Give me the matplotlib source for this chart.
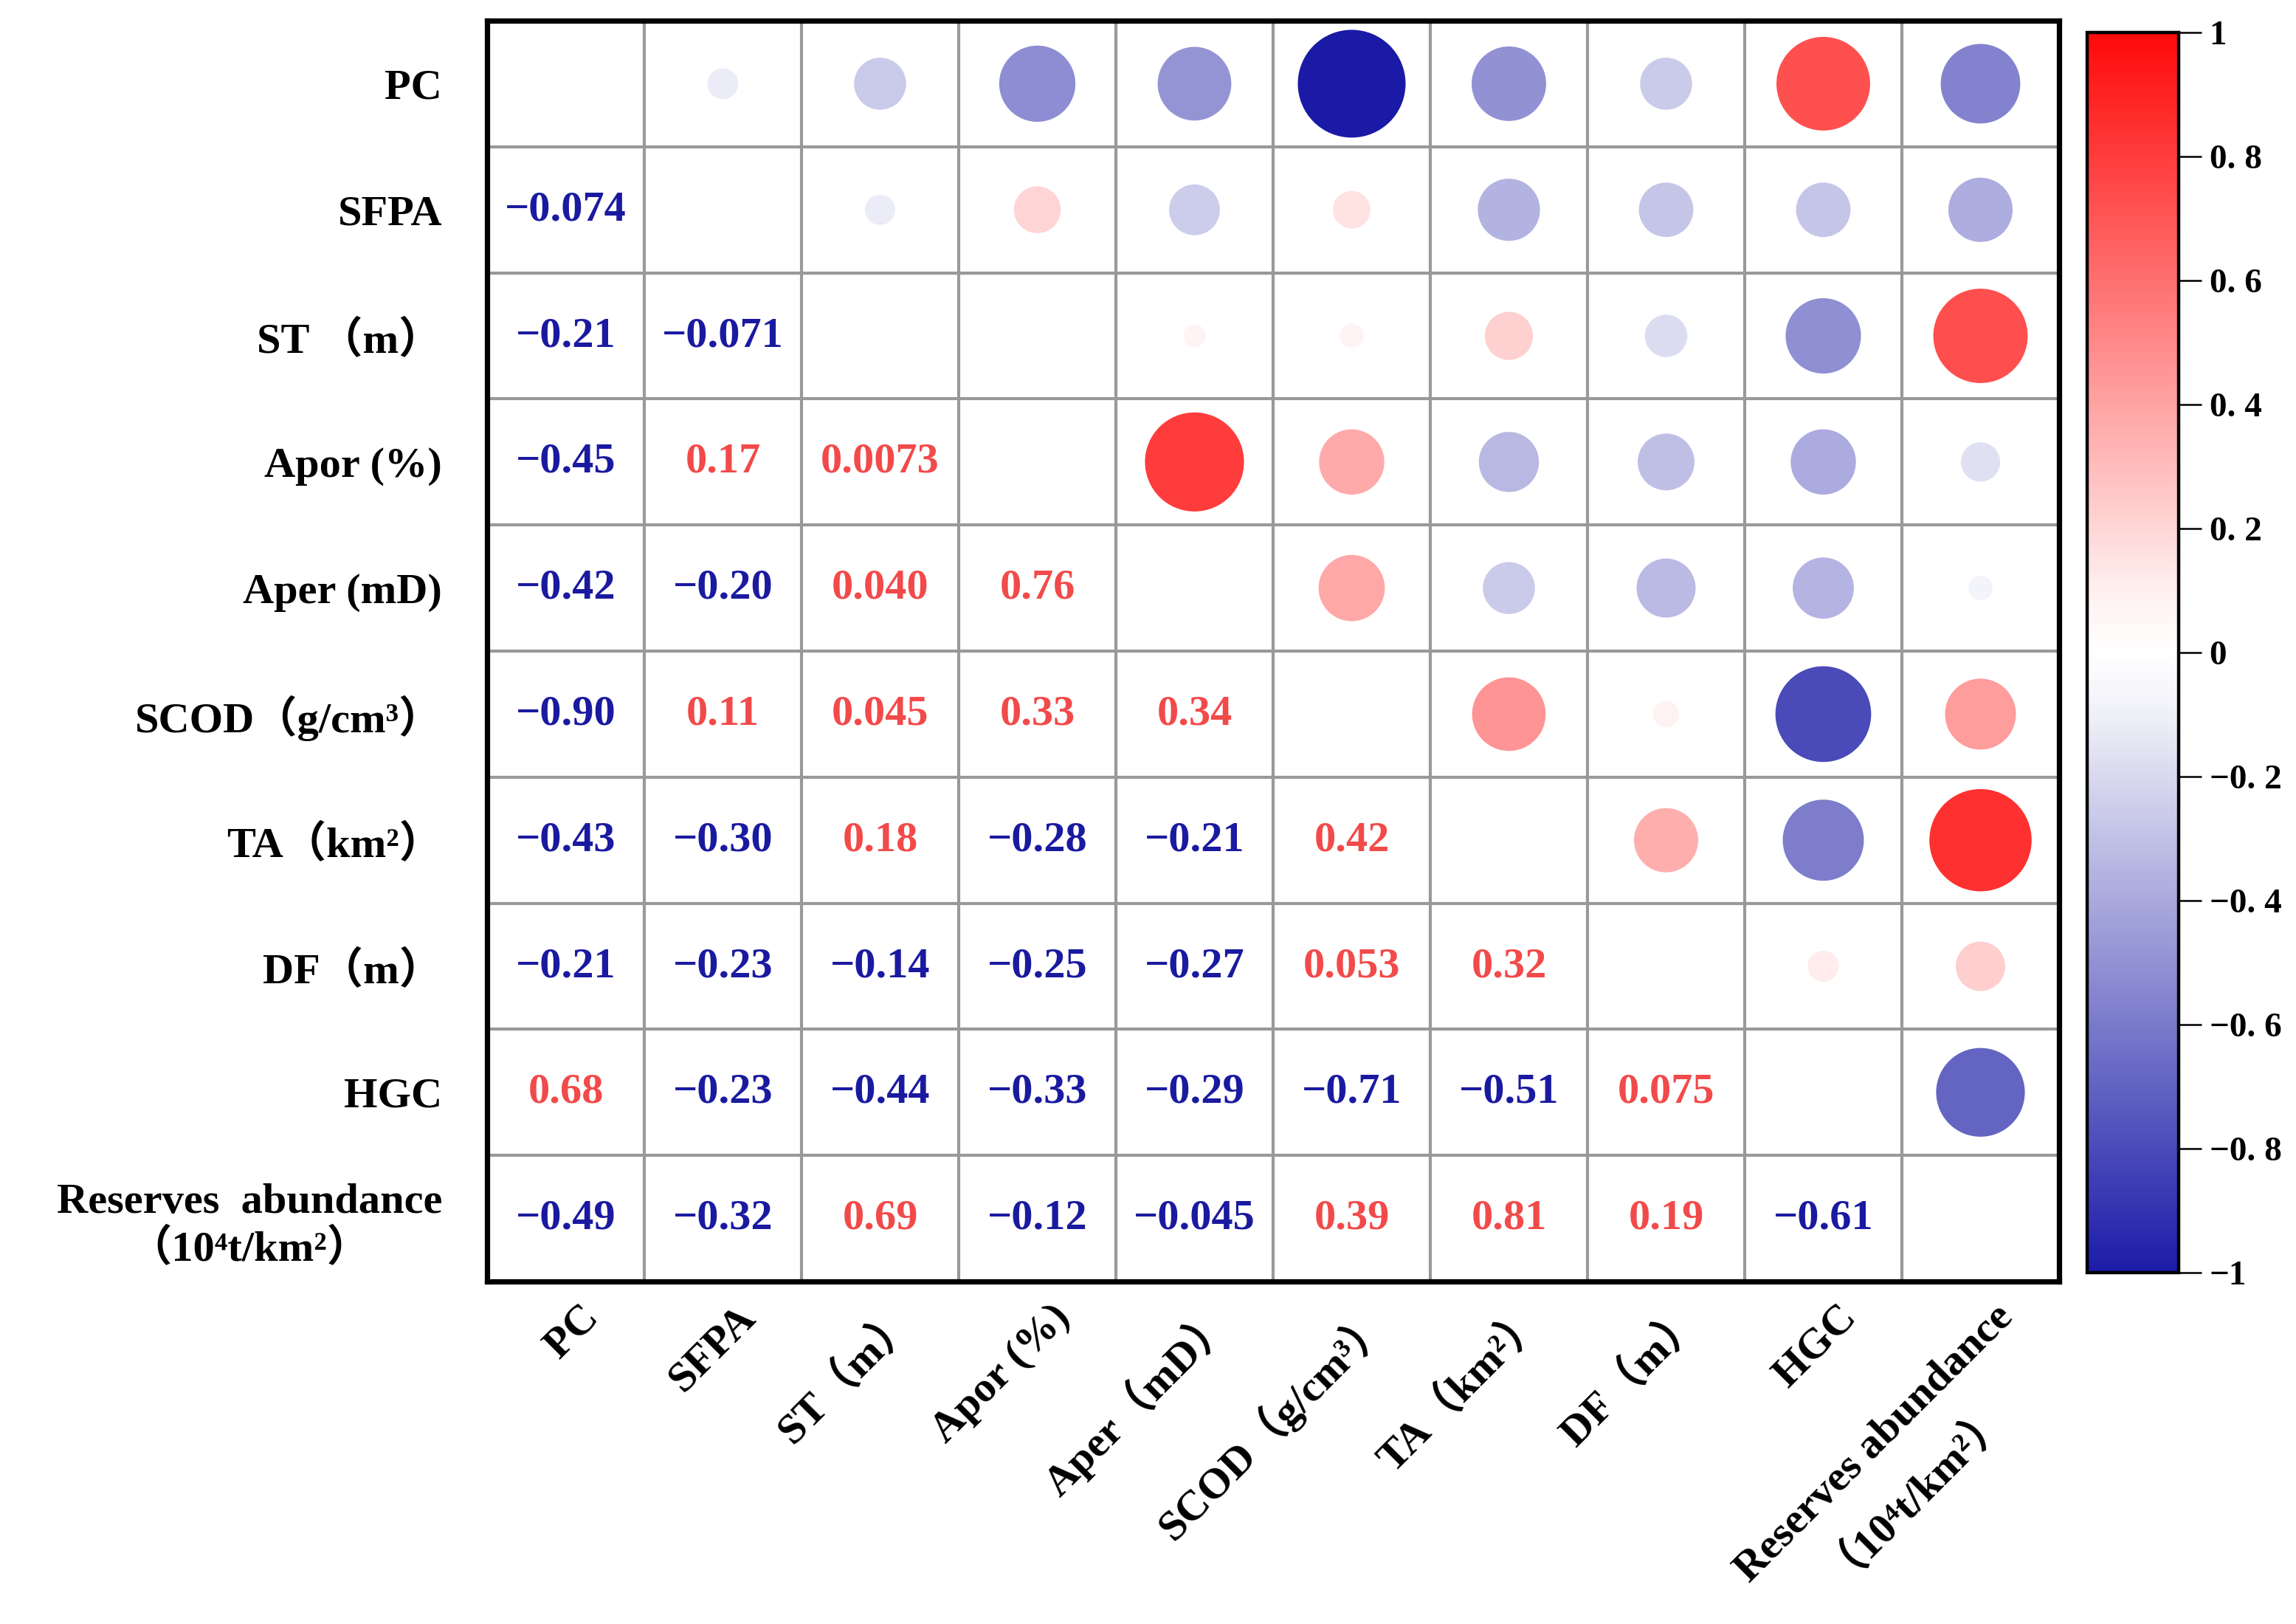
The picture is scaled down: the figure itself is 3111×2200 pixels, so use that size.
import numpy as np
import matplotlib
matplotlib.use('Agg')
import matplotlib.pyplot as plt
from matplotlib.colors import LinearSegmentedColormap, Normalize, TwoSlopeNorm
from matplotlib.cm import ScalarMappable
from matplotlib.transforms import ScaledTranslation

# variable names (rows top->bottom, columns left->right)
xlabels = ['PC', 'SFPA', 'ST（m）', 'Apor (%)', 'Aper（mD）', 'SCOD（g/cm³）',
           'TA（km²）', 'DF（m）', 'HGC', 'Reserves abundance\n（10⁴t/km²）']
ylabels = ['PC', 'SFPA', 'ST （m）', 'Apor (%)', 'Aper (mD)', 'SCOD（g/cm³）',
           'TA（km²）', 'DF（m）', 'HGC', 'Reserves  abundance\n（10⁴t/km²）']

# lower triangle of the correlation matrix, one list per row
r_pc = []
r_sfpa = [-0.074]
r_st = [-0.21, -0.071]
r_apor = [-0.45, 0.17, 0.0073]
r_aper = [-0.42, -0.20, 0.040, 0.76]
r_scod = [-0.90, 0.11, 0.045, 0.33, 0.34]
r_ta = [-0.43, -0.30, 0.18, -0.28, -0.21, 0.42]
r_df = [-0.21, -0.23, -0.14, -0.25, -0.27, 0.053, 0.32]
r_hgc = [0.68, -0.23, -0.44, -0.33, -0.29, -0.71, -0.51, 0.075]
r_ra = [-0.49, -0.32, 0.69, -0.12, -0.045, 0.39, 0.81, 0.19, -0.61]
rows = [r_pc, r_sfpa, r_st, r_apor, r_aper, r_scod, r_ta, r_df, r_hgc, r_ra]

cbar_ticks = [-1, -0.8, -0.6, -0.4, -0.2, 0, 0.2, 0.4, 0.6, 0.8, 1]
cbar_labels = ['−1', '−0. 8', '−0. 6', '−0. 4', '−0. 2', '0', '0. 2', '0. 4', '0. 6', '0. 8', '1']

n = len(xlabels)
corr = np.eye(n)
for i, row in enumerate(rows):
    for j, v in enumerate(row):
        corr[i, j] = v
        corr[j, i] = v

fam = ['Liberation Serif', 'Noto Sans CJK SC', 'DejaVu Sans']
plt.rcParams['font.family'] = fam
plt.rcParams['font.weight'] = 'bold'

# circle colours: scaled to the data range (min .. 1)
cmap_pts = LinearSegmentedColormap.from_list('pts', ['#1a1aa6', '#ffffff', '#ff0000'])
norm_pts = TwoSlopeNorm(vmin=corr.min(), vcenter=0, vmax=1)
# colour bar
cmap_bar = LinearSegmentedColormap.from_list(
    'bar', [(0, '#1c1ca8'), (0.45, '#f0f0f8'), (0.5, '#ffffff'),
            (0.55, '#fff0f0'), (1, '#ff0a0a')])
norm_bar = Normalize(-1, 1)

fig = plt.figure(figsize=(15.555, 11), dpi=200)
ax = fig.add_axes([660 / 3111, 1 - 1736 / 2200, 2130 / 3111, 1708 / 2200])
ax.set_xlim(0, n)
ax.set_ylim(n, 0)

# grid
for k in range(1, n):
    ax.axvline(k, color='#999999', lw=1.5, zorder=1)
    ax.axhline(k, color='#999999', lw=1.5, zorder=1)

# circles in the upper triangle (area ~ |r|)
xs, ys, vs = [], [], []
for i in range(n):
    for j in range(i + 1, n):
        xs.append(j + 0.5)
        ys.append(i + 0.5)
        vs.append(corr[i, j])
vs = np.array(vs)
ax.scatter(xs, ys, s=3070 * np.abs(vs), c=vs, cmap=cmap_pts, norm=norm_pts,
           linewidths=0, zorder=3)

# numbers in the lower triangle
for i in range(n):
    for j in range(i):
        v = corr[i, j]
        txt = f'{v:#.2g}'.replace('-', '−')
        col = '#1a1aa0' if v < 0 else '#f24a4a'
        ax.text(j + 0.5, i + 0.5, txt, ha='center', va='center', fontsize=21,
                fontweight='bold', color=col, zorder=4)

for sp in ax.spines.values():
    sp.set_linewidth(2.6)
    sp.set_color('black')
    sp.set_zorder(5)

ax.set_yticks(np.arange(n) + 0.5)
ax.set_yticklabels(ylabels, fontsize=21, fontweight='bold', multialignment='center')
ax.set_xticks(np.arange(n) + 0.5)
ax.set_xticklabels(xlabels, fontsize=21, fontweight='bold', rotation=45,
                   ha='right', va='top', rotation_mode='anchor',
                   multialignment='center')
ax.tick_params(axis='both', length=0)
ax.tick_params(axis='y', pad=22)
ax.tick_params(axis='x', pad=8)
shift = ScaledTranslation(0.09, 0, fig.dpi_scale_trans)
for lab in ax.get_xticklabels():
    lab.set_transform(lab.get_transform() + shift)

# colorbar
cax = fig.add_axes([2828 / 3111, 1 - 1724 / 2200, 124 / 3111, 1680 / 2200])
cb = fig.colorbar(ScalarMappable(norm=norm_bar, cmap=cmap_bar), cax=cax)
cb.set_ticks(cbar_ticks)
cb.set_ticklabels(cbar_labels)
cb.outline.set_linewidth(1.6)
cax.tick_params(length=11, width=0.9, labelsize=17, pad=4)
for t in cax.get_yticklabels():
    t.set_fontweight('bold')

fig.savefig('out.png', dpi=200, facecolor='white')
